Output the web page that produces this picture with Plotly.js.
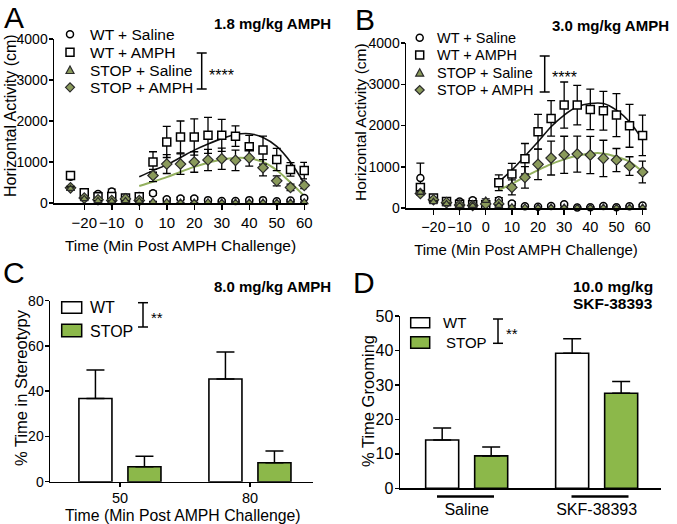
<!DOCTYPE html>
<html><head><meta charset="utf-8">
<script src="https://cdn.plot.ly/plotly-3.0.1.min.js"></script>
<style>html,body{margin:0;padding:0;background:#fff}#chart{width:677px;height:524px}</style>
</head><body><div id="chart"></div>
<script>
// ---------- DATA ----------
const timeA = [-25,-20,-15,-10,-5,0,5,10,15,20,25,30,35,40,45,50,55,60];
const A_wtSal     = [640,260,220,280,130,170,240,90,110,110,70,50,50,70,70,40,60,120];
const A_wtSalErr  = [60,50,40,60,40,40,50,30,30,30,20,20,20,20,20,20,20,40];
const A_wtAmph    = [670,250,150,160,120,150,1000,1490,1610,1610,1650,1650,1630,1370,1290,1060,820,790];
const A_wtAmphErr = [60,50,40,40,30,40,250,380,390,440,440,390,250,280,340,270,165,200];
const A_stSal     = [350,100,50,40,50,40,30,20,10,10,20,10,10,10,10,10,10,20];
const A_stSalErr  = [40,20,10,10,10,10,10,10,5,5,5,5,5,5,5,5,5,5];
const A_stAmph    = [370,120,80,60,100,60,670,950,950,1000,1050,1080,1040,1100,860,540,380,430];
const A_stAmphErr = [40,30,20,20,20,20,150,230,250,250,260,260,250,200,200,120,80,80];
const fitX = [0,5,10,15,20,25,30,35,40,45,50,55,60];
const A_fitWT   = [640,790,930,1110,1290,1440,1570,1670,1690,1600,1380,1000,470];
const A_fitSTOP = [415,520,630,760,880,980,1060,1100,1090,1000,800,500,170];

const timeB = timeA;
const B_wtSal     = [725,225,150,160,190,100,190,110,40,30,50,90,10,20,50,20,40,60];
const B_wtSalErr  = [365,40,30,30,40,30,60,40,20,20,20,30,10,10,20,10,20,20];
const B_wtAmph    = [500,240,160,90,80,80,613,823,1194,1848,2172,2494,2494,2390,2356,2252,1993,1760];
const B_wtAmphErr = [80,40,30,20,20,20,190,260,370,420,430,560,480,490,470,520,520,490];
const B_stSal     = [380,150,100,60,60,180,60,20,15,10,10,10,10,10,10,10,10,10];
const B_stSalErr  = [40,20,20,10,10,40,10,5,5,5,5,5,5,5,5,5,5,5];
const B_stAmph    = [350,200,130,70,60,100,100,500,743,1058,1210,1290,1307,1285,1203,1162,1017,872];
const B_stAmphErr = [40,30,20,20,10,20,30,180,260,370,410,450,436,450,440,280,225,265];
const fitXB = [5,10,15,20,25,30,35,40,45,50,55,60];
const B_fitWT   = [637,920,1259,1605,1969,2252,2453,2534,2534,2373,2090,1646];
const B_fitSTOP = [436,581,758,920,1065,1179,1266,1324,1324,1242,1121,879];

const C_cats = ['50','80'];
const C_wt = [36.8,45.4];     const C_wtErr = [12.6,11.9];
const C_stop = [6.6,8.4];     const C_stopErr = [4.7,5.2];

const D_cats = ['Saline','SKF-38393'];
const D_wt = [14.0,39.2];     const D_wtErr = [3.5,4.2];
const D_stop = [9.4,27.6];    const D_stopErr = [2.6,3.4];

const ticksA = [-20,-10,0,10,20,30,40,50,60];

// ---------- STYLE ----------
const FONT = 'Liberation Sans, Arial, Helvetica, sans-serif';
const W = 677, H = 524;
const px = x => x / W, py = y => 1 - y / H;
const GREEN = '#8cb84a', OLIVE = '#8a9a5b', DARK = '#2b2b2b', FITG = '#93b05e';

function errSym(arr){ return {type:'data', array:arr, visible:true, color:'#000', thickness:1.3, width:4}; }
function errUp(arr){ return {type:'data', symmetric:false, array:arr, arrayminus:arr.map(()=>0), visible:true, color:'#000', thickness:1.5, width:9}; }

function timeTraces(xa, ya, x, fx, fitW, fitS, wtS, wtSE, wtA, wtAE, stS, stSE, stA, stAE){
  const base = {type:'scatter', xaxis:xa, yaxis:ya, showlegend:false, cliponaxis:false, hoverinfo:'skip'};
  return [
    Object.assign({}, base, {x:fx, y:fitW, mode:'lines', line:{color:'#111', width:1.6, shape:'spline'}}),
    Object.assign({}, base, {x:fx, y:fitS, mode:'lines', line:{color:FITG, width:2, shape:'spline'}}),
    Object.assign({}, base, {name:'WT + Saline', x:x, y:wtS, mode:'markers', error_y:errSym(wtSE),
      marker:{symbol:'circle', size:7, color:'#fff', line:{color:'#000', width:1.5}}}),
    Object.assign({}, base, {name:'WT + AMPH', x:x, y:wtA, mode:'markers', error_y:errSym(wtAE),
      marker:{symbol:'square', size:8, color:'#fff', line:{color:'#000', width:1.5}}}),
    Object.assign({}, base, {name:'STOP + AMPH', x:x, y:stA, mode:'markers', error_y:errSym(stAE),
      marker:{symbol:'diamond', size:8, color:OLIVE, line:{color:DARK, width:1.2}}}),
    Object.assign({}, base, {name:'STOP + Saline', x:x, y:stS, mode:'markers', error_y:errSym(stSE),
      marker:{symbol:'triangle-up', size:7, color:OLIVE, line:{color:DARK, width:1.2}}})
  ];
}

const data = [].concat(
  timeTraces('x','y', timeA, fitX, A_fitWT, A_fitSTOP, A_wtSal, A_wtSalErr, A_wtAmph, A_wtAmphErr, A_stSal, A_stSalErr, A_stAmph, A_stAmphErr),
  timeTraces('x2','y2', timeB, fitXB, B_fitWT, B_fitSTOP, B_wtSal, B_wtSalErr, B_wtAmph, B_wtAmphErr, B_stSal, B_stSalErr, B_stAmph, B_stAmphErr),
  [
    {type:'bar', name:'WT', x:C_cats, y:C_wt, xaxis:'x3', yaxis:'y3', showlegend:false, hoverinfo:'skip',
     marker:{color:'#fff', line:{color:'#000', width:1.6}}, error_y:errUp(C_wtErr)},
    {type:'bar', name:'STOP', x:C_cats, y:C_stop, xaxis:'x3', yaxis:'y3', showlegend:false, hoverinfo:'skip',
     marker:{color:GREEN, line:{color:'#000', width:1.6}}, error_y:errUp(C_stopErr)},
    {type:'bar', name:'WT', x:D_cats, y:D_wt, xaxis:'x4', yaxis:'y4', showlegend:false, hoverinfo:'skip',
     marker:{color:'#fff', line:{color:'#000', width:1.6}}, error_y:errUp(D_wtErr)},
    {type:'bar', name:'STOP', x:D_cats, y:D_stop, xaxis:'x4', yaxis:'y4', showlegend:false, hoverinfo:'skip',
     marker:{color:GREEN, line:{color:'#000', width:1.6}}, error_y:errUp(D_stopErr)}
  ]
);

function axBase(fs){
  return {showline:true, linecolor:'#000', linewidth:1.5, ticks:'outside', ticklen:4, tickwidth:1.5, tickcolor:'#000',
    showgrid:false, zeroline:false, fixedrange:true, tickangle:0, tickfont:{family:FONT, size:fs, color:'#000'}};
}
function ax(o, fs){ return Object.assign(axBase(fs), o); }

const layout = {
  width:W, height:H, margin:{l:0,r:0,t:0,b:0}, paper_bgcolor:'#fff', plot_bgcolor:'rgba(0,0,0,0)',
  font:{family:FONT, color:'#000'}, showlegend:false, barmode:'group', bargap:0.246, bargroupgap:0.326,
  xaxis: ax({domain:[px(54),px(307)], range:[-31,61], tickvals:ticksA, anchor:'y', ticklen:5,
    title:{text:'Time (Min Post AMPH Challenge)', font:{family:FONT,size:15.5}, standoff:10}}, 15),
  yaxis: ax({domain:[py(203),py(39)], range:[0,4000], dtick:1000, anchor:'x', ticklabelstandoff:-2}, 14),
  xaxis2: ax({domain:[px(406),px(646)], range:[-30.5,61.3], tickvals:ticksA, anchor:'y2', ticklen:5,
    title:{text:'Time (Min Post AMPH Challenge)', font:{family:FONT,size:15}, standoff:10}}, 14.5),
  yaxis2: ax({domain:[py(208),py(43)], range:[0,4000], dtick:1000, anchor:'x2', ticklabelstandoff:-2}, 14),
  xaxis3: ax({domain:[px(50),px(313)], type:'category', range:[-0.538,1.485], anchor:'y3', ticklabelstandoff:-2}, 14.5),
  yaxis3: ax({domain:[py(481.7),py(300.7)], range:[0,80], dtick:20, anchor:'x3', ticklabelstandoff:-2}, 14),
  xaxis4: ax({domain:[px(400),px(661)], type:'category', range:[-0.513,1.495], anchor:'y4', ticks:'',
    ticklabelstandoff:6}, 16),
  yaxis4: ax({domain:[py(488.3),py(316)], range:[0,50], dtick:10, anchor:'x4', ticklabelstandoff:-2}, 16),
  annotations:[], shapes:[]
};

const ann = layout.annotations, shp = layout.shapes;
function txt(t, x, y, o){ ann.push(Object.assign({text:t, x:px(x), y:py(y), xref:'paper', yref:'paper', showarrow:false,
  xanchor:'left', yanchor:'middle', font:{family:FONT, size:15, color:'#000'}}, o||{})); }
function line(x0,y0,x1,y1,w){ shp.push({type:'line', xref:'paper', yref:'paper', x0:px(x0), y0:py(y0), x1:px(x1), y1:py(y1), line:{color:'#000', width:w||1.5}}); }
function bracket(x, y0, y1){ line(x,y0,x,y1,1.5); line(x-5,y0,x+5,y0,1.5); line(x-5,y1,x+5,y1,1.5); }
function circ(x,y,r,fill,lc){ shp.push({type:'circle', xref:'paper', yref:'paper', x0:px(x-r), x1:px(x+r), y0:py(y+r), y1:py(y-r), fillcolor:fill, line:{color:lc, width:1.5}}); }
function rect(x0,y0,x1,y1,fill,lw){ shp.push({type:'rect', xref:'paper', yref:'paper', x0:px(x0), x1:px(x1), y0:py(y1), y1:py(y0), fillcolor:fill, line:{color:'#000', width:lw||1.5}}); }
function poly(pts, fill, lc){ shp.push({type:'path', xref:'paper', yref:'paper', path:'M'+pts.map(p=>px(p[0])+','+py(p[1])).join('L')+'Z', fillcolor:fill, line:{color:lc, width:1.2}}); }
function legendKeys(x, ys){
  circ(x, ys[0], 3.5, '#fff', '#000');
  rect(x-4, ys[1]-4, x+4, ys[1]+4, '#fff', 1.5);
  poly([[x-4,ys[2]+3.5],[x+4,ys[2]+3.5],[x,ys[2]-4]], OLIVE, DARK);
  poly([[x-4.5,ys[3]],[x,ys[3]-4.5],[x+4.5,ys[3]],[x,ys[3]+4.5]], OLIVE, DARK);
}
function ytitle(t, x, y, fs){ txt(t, x, y, {xanchor:'center', textangle:-90, font:{family:FONT, size:fs}}); }

// axis titles (y, rotated) and C x title
ytitle('Horizontal Activity (cm)', 10, 116, 16);
ytitle('Horizontal Activity (cm)', 360, 122, 15.5);
ytitle('% Time in Stereotypy', 21, 388, 16.5);
ytitle('% Time Grooming', 368, 401, 16.5);
txt('Time (Min Post AMPH Challenge)', 182.5, 515, {xanchor:'center', font:{family:FONT, size:15.8}});

// panel letters
txt('A', 14, -1, {xanchor:'center', yanchor:'top', font:{family:FONT, size:30}});
txt('B', 364.5, 1, {xanchor:'center', yanchor:'top', font:{family:FONT, size:30}});
txt('C', 13.5, 254, {xanchor:'center', yanchor:'top', font:{family:FONT, size:30}});
txt('D', 364, 264, {xanchor:'center', yanchor:'top', font:{family:FONT, size:30}});

// panel titles
txt('<b>1.8 mg/kg AMPH</b>', 333, 24, {xanchor:'right', font:{family:FONT, size:15}});
txt('<b>3.0 mg/kg AMPH</b>', 671, 25, {xanchor:'right', font:{family:FONT, size:15}});
txt('<b>8.0 mg/kg AMPH</b>', 333, 286.7, {xanchor:'right', font:{family:FONT, size:15}});
txt('<b>10.0 mg/kg</b>', 613, 286.7, {xanchor:'center', font:{family:FONT, size:15.5}});
txt('<b>SKF-38393</b>', 613, 303.3, {xanchor:'center', font:{family:FONT, size:15.5}});

// legend A
const legA = [34.3, 52.3, 70, 87.3];
legendKeys(70, legA);
['WT + Saline','WT + AMPH','STOP + Saline','STOP + AMPH'].forEach((t,i)=>txt(t, 88.3, legA[i], {font:{family:FONT,size:15.5}}));
bracket(201.7, 53, 89);
txt('****', 207, 75, {font:{family:FONT,size:16}});

// legend B
const legB = [37.7, 55, 72.7, 90];
legendKeys(419.7, legB);
['WT + Saline','WT + AMPH','STOP + Saline','STOP + AMPH'].forEach((t,i)=>txt(t, 434.7, legB[i], {font:{family:FONT,size:14.5}}));
bracket(544.7, 56, 92);
txt('****', 550, 77, {font:{family:FONT,size:16}});

// legend C
rect(61.7, 301.7, 81.7, 313.3, '#fff', 1.5);
rect(61.7, 324.3, 81.7, 336.7, GREEN, 1.5);
txt('WT', 88.3, 307.3, {font:{family:FONT,size:16}});
txt('STOP', 88.3, 331.7, {font:{family:FONT,size:16}});
bracket(143, 302.7, 327);
txt('**', 149, 317.5, {font:{family:FONT,size:15}});

// legend D
rect(410.7, 317.7, 429.7, 327.7, '#fff', 1.5);
rect(410.7, 336.7, 429.7, 348.3, GREEN, 1.5);
txt('WT', 441.3, 322.7, {font:{family:FONT,size:15}});
txt('STOP', 444, 342.3, {font:{family:FONT,size:15}});
bracket(498, 319, 343.3);
txt('**', 504, 333, {font:{family:FONT,size:15}});

// group underlines D
line(437, 496.5, 494, 496.5, 2.5);
line(571.5, 496.5, 628.5, 496.5, 2.5);

Plotly.newPlot('chart', data, layout, {displayModeBar:false, staticPlot:true});
</script></body></html>
